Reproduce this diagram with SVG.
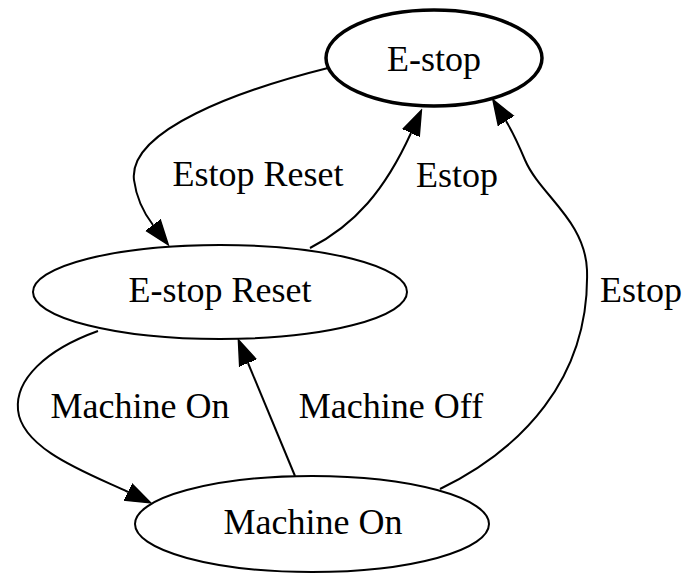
<svg xmlns="http://www.w3.org/2000/svg" width="686" height="575" viewBox="0 0 686 575">
<style>
.node{fill:#fff;stroke:#000;stroke-width:2}
.bold{stroke-width:3.5}
text{font-family:"Liberation Serif","Times New Roman",serif;font-size:36px;fill:#000;text-anchor:middle}
.edge{fill:none;stroke:#000;stroke-width:2;marker-end:url(#arrow)}
</style>
<defs>
<marker id="arrow" markerUnits="userSpaceOnUse" markerWidth="27" markerHeight="22" refX="0" refY="10" orient="auto" viewBox="0 0 27 20">
<polygon points="0,1 25,10 0,19" fill="#000" stroke="#000" stroke-width="1.5"/>
</marker>
</defs>
<rect width="686" height="575" fill="#fff"/>
<g id="edges">
<path class="edge" d="M 328,68 C 240,90 128,130 134,180 C 136,195 143,212 153,225"/>
<path class="edge" d="M 310,248 C 355,225 385,190 411,133"/>
<path class="edge" d="M 440,489 C 520,450 590,380 587,270 C 585,220 540,195 525,160 C 520,148 514,134 506,121"/>
<path class="edge" d="M 98,331 C 45,350 15,380 18,410 C 22,450 90,474 128,492"/>
<path class="edge" d="M 295,476 L 248,363"/>
<text x="258" y="186">Estop Reset</text>
<text x="457" y="187">Estop</text>
<text x="641" y="302">Estop</text>
<text x="140" y="418">Machine On</text>
<text x="391" y="418">Machine Off</text>
</g>
<g id="estop">
<ellipse class="node bold" cx="434" cy="58" rx="108" ry="48"/>
<text x="434" y="71">E-stop</text>
</g>
<g id="estop-reset">
<ellipse class="node" cx="220" cy="292" rx="187" ry="47"/>
<text x="220" y="302">E-stop Reset</text>
</g>
<g id="machine-on">
<ellipse class="node" cx="312" cy="524" rx="177" ry="48"/>
<text x="313" y="534">Machine On</text>
</g>
</svg>
